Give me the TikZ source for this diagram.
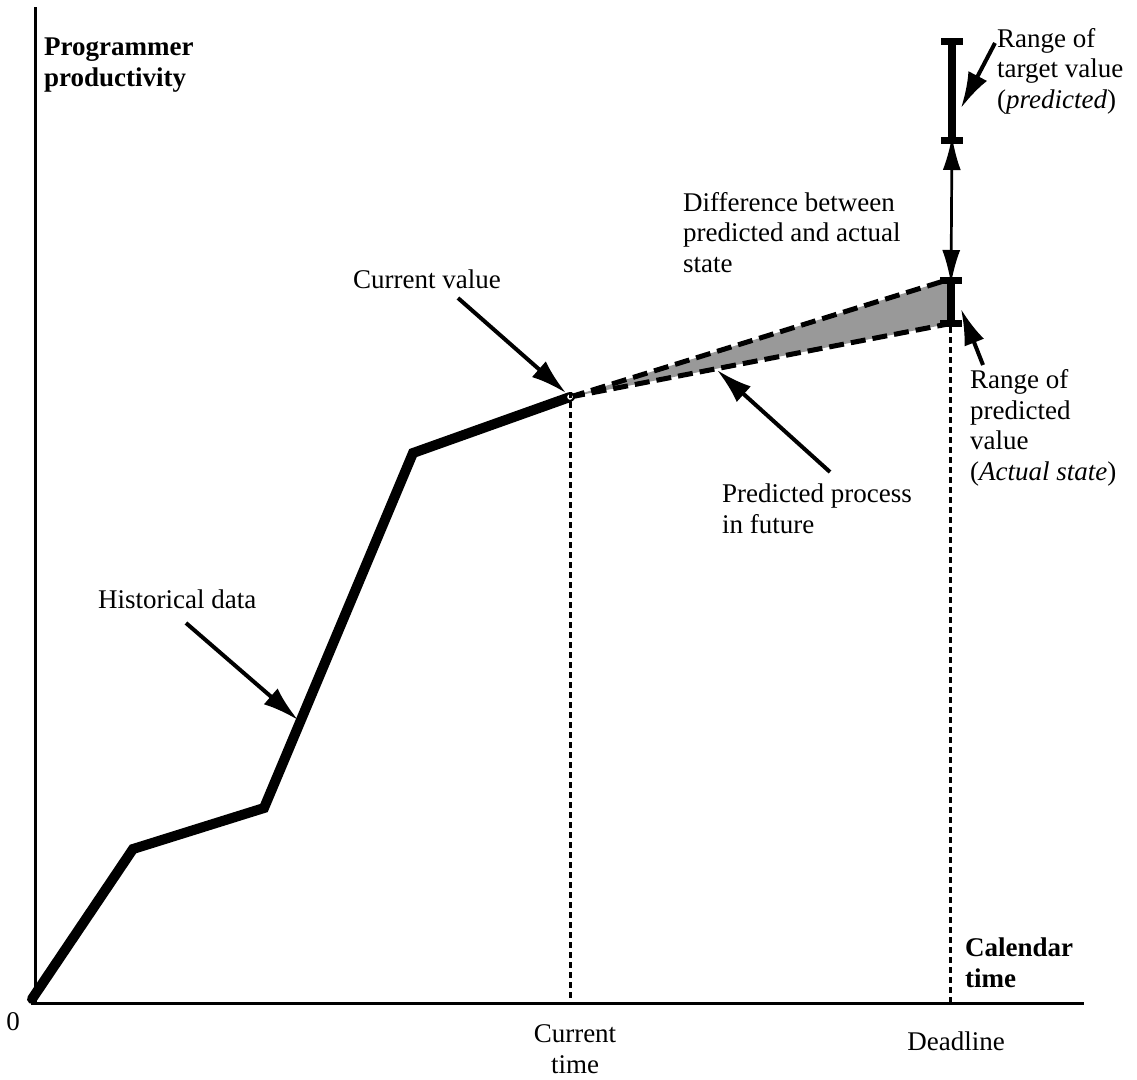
\documentclass[tikz,border=0pt]{standalone}
\usepackage{fontspec}
\setmainfont{Liberation Serif}
\usetikzlibrary{arrows.meta}
\begin{document}
\begin{tikzpicture}[x=1pt,y=-1pt,
  lbl/.style={font=\fontsize{27}{30.5}\selectfont, align=left, inner sep=0pt, anchor=base west},
  blbl/.style={lbl, font=\fontsize{27}{30.5}\selectfont\bfseries},
  axis/.style={line width=3pt},
  hist/.style={line width=10pt, line join=miter, line cap=round},
  ptr/.style={line width=4pt, -{Latex[length=36pt,width=21pt]}},
  dashline/.style={line width=5pt, dash pattern=on 15pt off 7pt},
  guide/.style={line width=3pt, dash pattern=on 6pt off 4pt},
  rangebar/.style={line width=8pt},
  barcap/.style={line width=7pt},
  dbl/.style={line width=2.7pt, {Latex[length=34pt,width=18pt]}-{Latex[length=34pt,width=18pt]}}]
\useasboundingbox (0,0) rectangle (1137,1079);

% axes
\coordinate (ybot) at (35,1003);
\coordinate (ytop) at (35,7);
\coordinate (xbeg) at (31,1003);
\coordinate (xend) at (1084,1003);
\draw[axis] (ybot) -- (ytop);
\draw[axis] (xbeg) -- (xend);

% historical data
\coordinate (h0) at (32,999);
\coordinate (h1) at (133,849);
\coordinate (h2) at (264,808);
\coordinate (h3) at (413,453);
\coordinate (cv) at (570,397);
\draw[hist] (h0) -- (h1) -- (h2) -- (h3) -- (cv);

% prediction fan
\coordinate (up) at (947,280);
\coordinate (lo) at (948,324);
\fill[black!40] (cv) -- (up) -- (lo) -- cycle;
\draw[dashline] (cv) -- (up);
\draw[dashline] (cv) -- (lo);
\draw[line width=1.6pt, fill=white] (cv) circle (3.8pt);

% range of predicted value
\coordinate (pt) at (951,280);
\coordinate (pb) at (951,323);
\draw[rangebar] (pt) -- (pb);
\draw[barcap] (940,280) -- (962,280);
\draw[barcap] (940,323) -- (962,323);

% range of target value
\coordinate (tt) at (952,41);
\coordinate (tb) at (952,140);
\draw[rangebar] (tt) -- (tb);
\draw[barcap] (941,41) -- (963,41);
\draw[barcap] (941,140) -- (963,140);

% difference arrow
\draw[dbl] ([yshift=4pt]tb) -- ([yshift=-4pt]pt);

% guide lines
\coordinate (ct) at (570,1003);
\coordinate (dl) at (950,1003);
\draw[guide] ([yshift=5pt]cv) -- (ct);
\draw[guide] (950,327) -- (dl);

% labels
\node[blbl] (ylab) at (44,86) {Programmer\\productivity};
\node[blbl] (xlab) at (965,987) {Calendar\\time};
\node[lbl, anchor=base] (zero) at (13,1030) {0};
\node[lbl, anchor=base, align=center] (ctime) at (575,1073) {Current\\time};
\node[lbl, anchor=base east] (dline) at (1005,1050) {Deadline};
\node[lbl] (cvlab) at (353,288) {Current value};
\node[lbl] (hdlab) at (98,608) {Historical data};
\node[lbl] (difflab) at (683,272) {Difference between\\predicted and actual\\state};
\node[lbl] (tglab) at (997,108) {Range of\\target value\\(\textit{predicted})};
\node[lbl] (prlab) at (970,480) {Range of\\predicted\\value\\(\textit{Actual state})};
\node[lbl] (pplab) at (722,533) {Predicted process\\in future};

% pointer arrows
\coordinate (cvs) at (458,298);
\coordinate (cve) at (566,393);
\draw[ptr] (cvs) -- (cve);
\coordinate (hds) at (186,623);
\coordinate (hde) at (298,720);
\draw[ptr] (hds) -- (hde);
\coordinate (pps) at (830,472);
\coordinate (ppe) at (717,370);
\draw[ptr] (pps) -- (ppe);
\coordinate (tgs) at (995,43);
\coordinate (tge) at (961,108);
\draw[ptr] (tgs) -- (tge);
\coordinate (prs) at (983,365);
\coordinate (pre) at (961,309);
\draw[ptr] (prs) -- (pre);
\end{tikzpicture}
\end{document}
